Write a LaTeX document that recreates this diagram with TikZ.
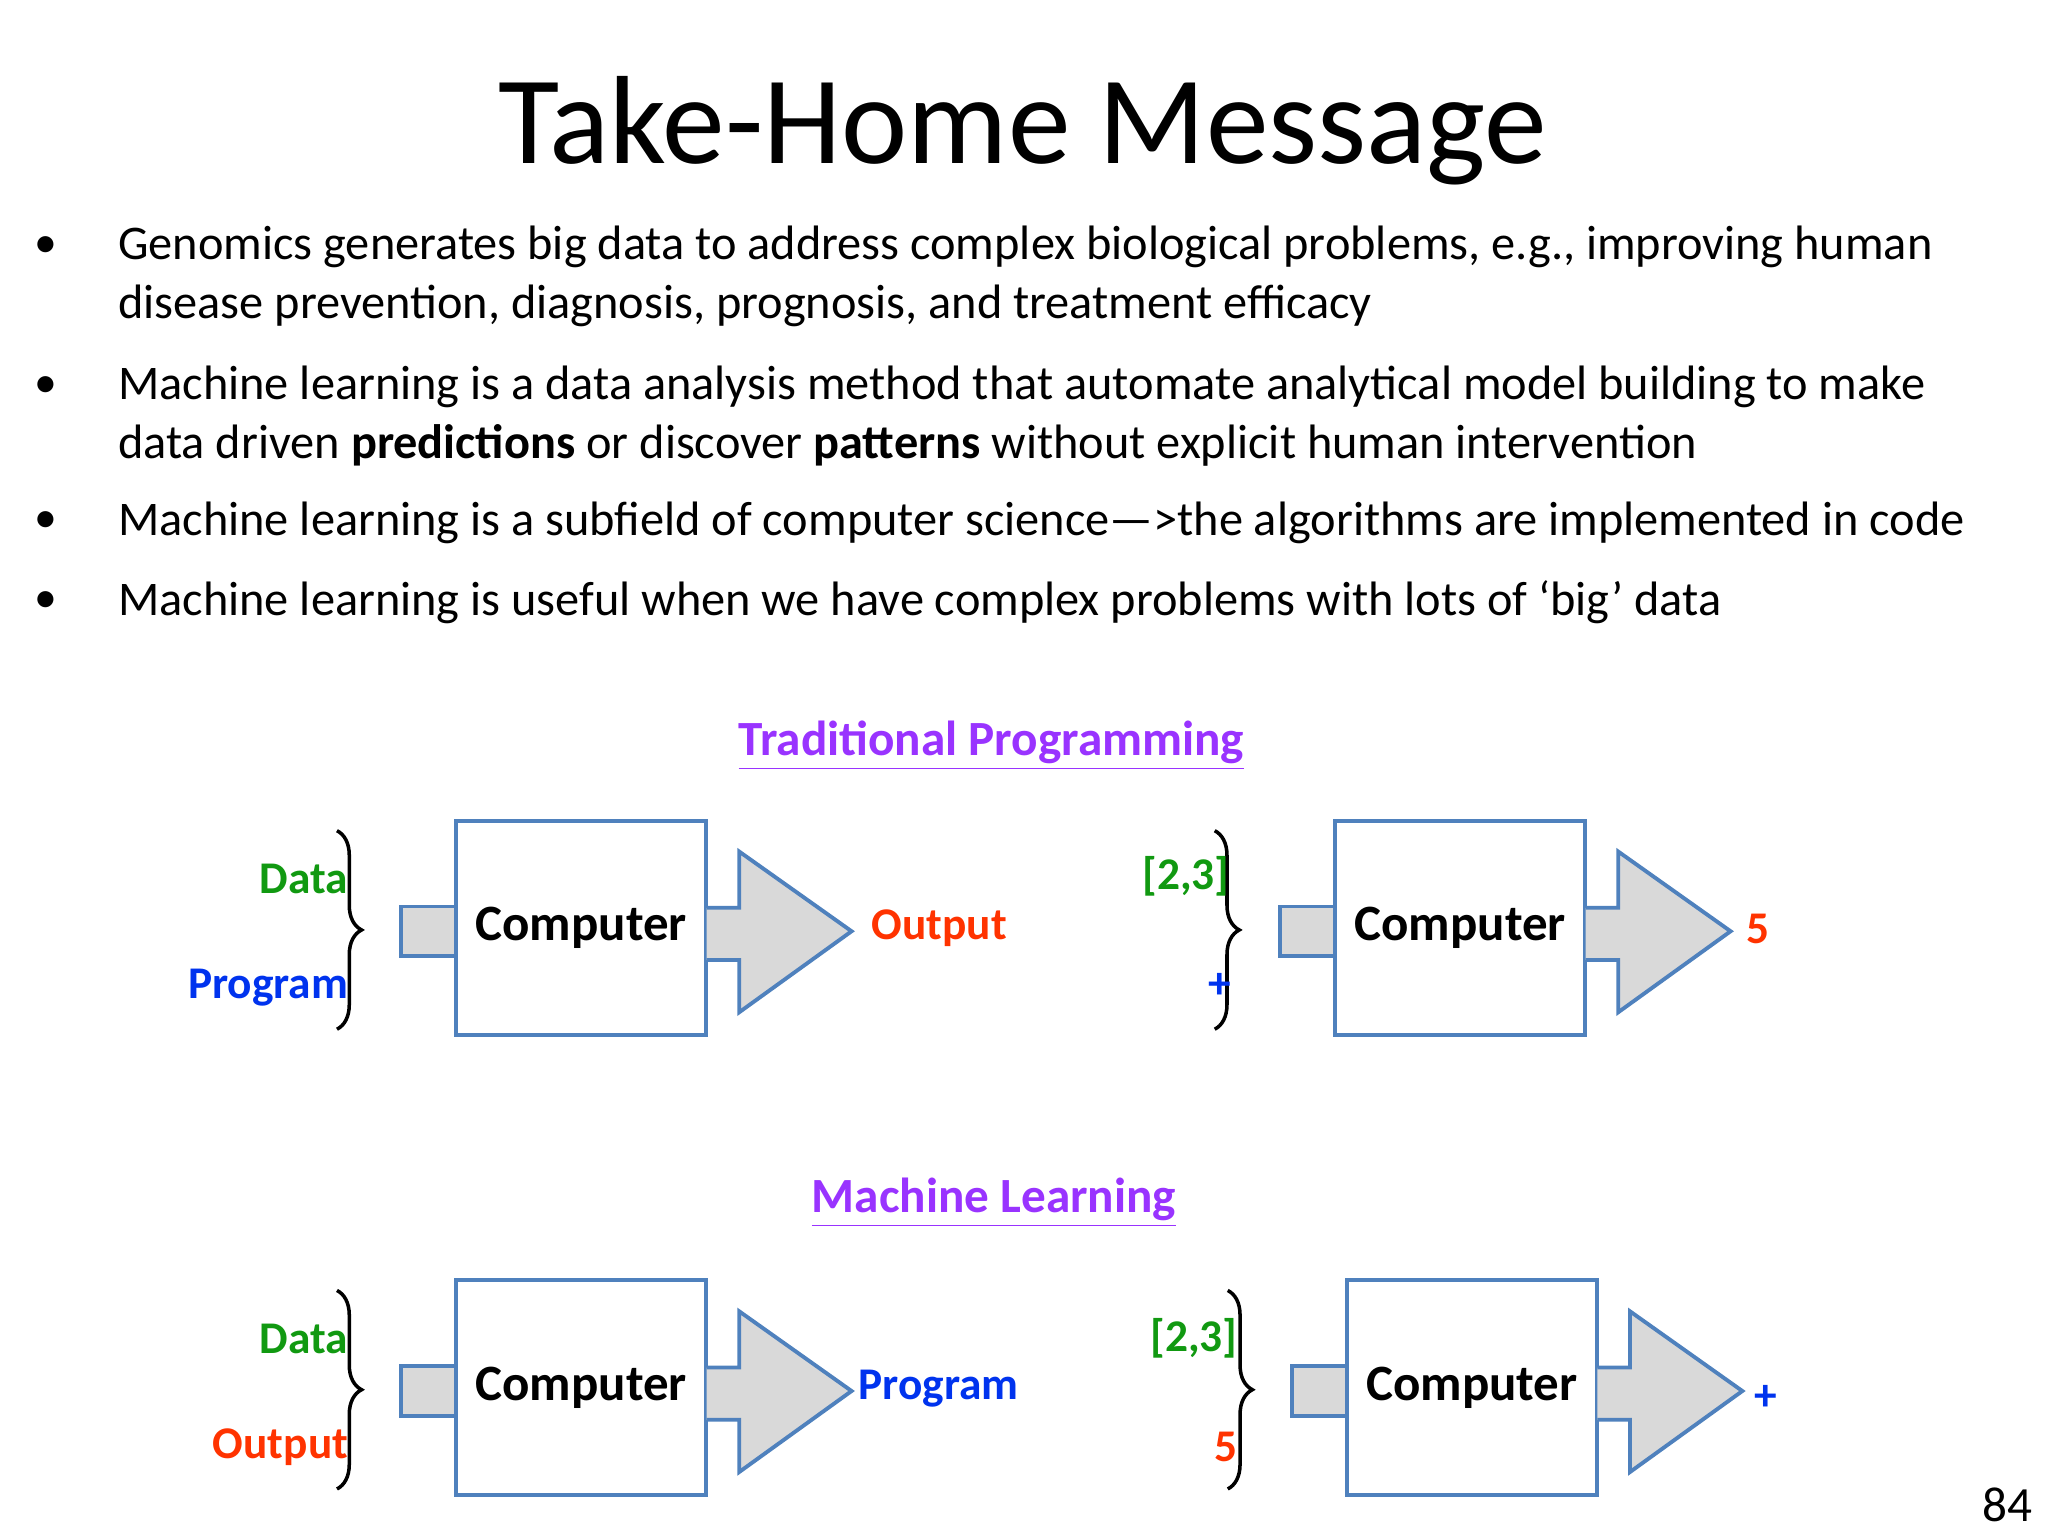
\documentclass[tikz,border=0pt]{standalone}
\usepackage{fontspec}
\setmainfont{Carlito}
\usetikzlibrary{decorations.pathreplacing}
\definecolor{bx}{HTML}{4F81BD}
\definecolor{gr}{HTML}{119911}
\definecolor{bl}{HTML}{0033EE}
\definecolor{rd}{HTML}{FF3300}
\definecolor{pu}{HTML}{9933FF}
\tikzset{
 x=0.01306cm,y=-0.01306cm,
 ln/.style={anchor=base west,inner sep=0,font=\fontsize{13.75}{16}\selectfont},
 lab/.style={inner sep=0,font=\fontsize{12.9}{15}\selectfont\bfseries},
 comp/.style={draw=bx,line width=1.1pt,fill=white,minimum width=71.1pt,minimum height=61.1pt,inner sep=0,font=\fontsize{14.5}{17}\selectfont\bfseries},
 feed/.style={draw=bx,line width=1.1pt,fill=black!15},
 brc/.style={decorate,decoration={brace,amplitude=7pt},line width=1pt},
 head/.style={inner sep=0,text=pu,font=\fontsize{14}{17}\selectfont\bfseries}
}
\newcommand\mlunit[4]{%
 \begin{scope}[shift={(#2,#3)}]
 \coordinate (#1b1) at (#4,8);\coordinate (#1b2) at (#4,160);
 \draw[brc] (#1b1) -- (#1b2);
 \node[feed,minimum width=15.6pt,minimum height=14.1pt,inner sep=0] (#1r) at (-21,85) {};
 \node[comp] (#1c) at (96,82.5) {Computer};
 \draw[feed] (192,67) -- (217,67) -- (217,24) -- (303,85) -- (217,147) -- (217,107) -- (192,107);
 \coordinate (#1tip) at (303,85);
 \end{scope}}
\begin{document}
\begin{tikzpicture}
\useasboundingbox (0,0) rectangle (1568,1176);
\node[inner sep=0,font=\fontsize{35.7}{40}\selectfont] (title) at (783,100) {Take-Home Message};
\foreach \y in {189,296,400,461} \node[inner sep=0,font=\fontsize{13}{14}\selectfont] at (35,\y) {•};
\node[ln] (l1) at (90,199) {Genomics generates big data to address complex biological problems, e.g., improving human};
\node[ln] (l2) at (90,244) {disease prevention, diagnosis, prognosis, and treatment efficacy};
\node[ln] (l3) at (90,306) {Machine learning is a data analysis method that automate analytical model building to make};
\node[ln] (l4) at (90,351) {data driven \textbf{predictions} or discover \textbf{patterns} without explicit human intervention};
\node[ln] (l5) at (90,410) {Machine learning is a subfield of computer science—>the algorithms are implemented in code};
\node[ln] (l6) at (90,471) {Machine learning is useful when we have complex problems with lots of ‘big’ data};
\node[head] (h1) at (759,571) {\underline{Traditional Programming}};
\node[head] (h2) at (761,921) {\underline{Machine Learning}};
\mlunit{a}{349}{628}{-91}
\mlunit{b}{1022}{628}{-92}
\mlunit{c}{349}{980}{-91}
\mlunit{d}{1031}{980}{-91}
\node[lab,text=gr,anchor=east] at (267,673) {Data};
\node[lab,text=bl,anchor=east] at (267,756) {Program};
\node[lab,text=rd,anchor=west] at (667,711) {Output};
\node[lab,text=gr,anchor=east] at (942,671) {[2,3]};
\node[lab,text=bl,anchor=east] at (943,755) {+};
\node[lab,text=rd,anchor=west] at (1337,711) {5};
\node[lab,text=gr,anchor=east] at (267,1025) {Data};
\node[lab,text=rd,anchor=east] at (267,1108) {Output};
\node[lab,text=bl,anchor=west] at (657,1063) {Program};
\node[lab,text=gr,anchor=east] at (948,1025) {[2,3]};
\node[lab,text=rd,anchor=east] at (948,1108) {5};
\node[lab,text=bl,anchor=west] at (1343,1070) {+};
\node[inner sep=0,font=\fontsize{14}{16}\selectfont] (pg) at (1537,1152) {84};
\end{tikzpicture}
\end{document}
